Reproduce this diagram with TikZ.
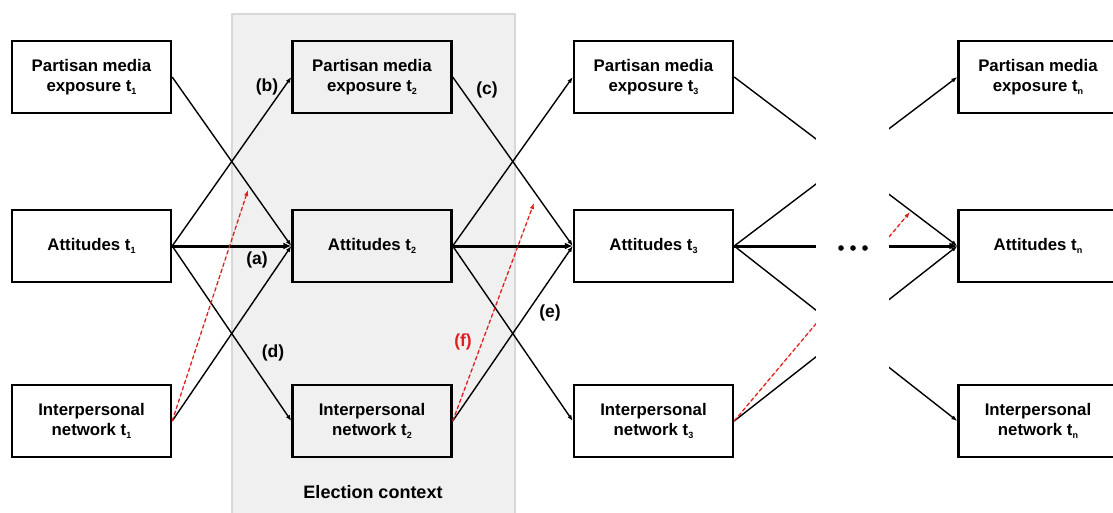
\documentclass[tikz,border=0pt]{standalone}
\usepackage{fontspec}
\setmainfont{Liberation Sans}
\usetikzlibrary{arrows.meta}
\definecolor{ctxfill}{HTML}{F0F0F0}
\definecolor{ctxline}{HTML}{D8D8D8}
\definecolor{modred}{HTML}{E02020}
\newcommand{\smallsub}[1]{\raisebox{-0.35ex}{\fontsize{9}{9}\selectfont #1}}
\begin{document}
\begin{tikzpicture}[x=1pt,y=-1pt,
  box/.style={draw=black, line width=2.4pt, minimum width=159pt, minimum height=72pt,
    inner sep=0pt, align=center, font=\fontsize{16.8}{20.5}\selectfont\bfseries},
  lbl/.style={font=\fontsize{17.5}{20}\selectfont\bfseries, inner sep=0pt},
  thinarrow/.style={line width=1.4pt, -{Latex[length=6pt,width=4.5pt]}},
  thickarrow/.style={line width=3pt, -{Latex[length=8pt,width=7pt]}},
  modarrow/.style={draw=modred, line width=1.3pt, dash pattern=on 4pt off 2.5pt,
    -{Latex[length=6pt,width=4.5pt]}, fill=modred}
]
\useasboundingbox (0,0) rectangle (1113,512);
% election context
\draw[fill=ctxfill, draw=ctxline, line width=1.5pt] (232,14) rectangle (515,530);
\node[lbl, font=\fontsize{18}{20}\selectfont\bfseries] (ctx) at (373,492) {Election context};

% boxes
\node[box] (P1) at (91.5,77) {Partisan media\\exposure t\smallsub{1}};
\node[box] (A1) at (91.5,246) {Attitudes t\smallsub{1}};
\node[box] (I1) at (91.5,421) {Interpersonal\\network t\smallsub{1}};
\node[box] (P2) at (372,77) {Partisan media\\exposure t\smallsub{2}};
\node[box] (A2) at (372,246) {Attitudes t\smallsub{2}};
\node[box] (I2) at (372,421) {Interpersonal\\network t\smallsub{2}};
\node[box] (P3) at (653.5,77) {Partisan media\\exposure t\smallsub{3}};
\node[box] (A3) at (653.5,246) {Attitudes t\smallsub{3}};
\node[box] (I3) at (653.5,421) {Interpersonal\\network t\smallsub{3}};
\node[box] (Pn) at (1038,77) {Partisan media\\exposure t\smallsub{n}};
\node[box] (An) at (1038,246) {Attitudes t\smallsub{n}};
\node[box] (In) at (1038,421) {Interpersonal\\network t\smallsub{n}};

% cross-lagged paths
\foreach \a/\b in {1/2,2/3,3/n}{
  \draw[thinarrow] (P\a.east) -- (A\b.west);
  \draw[thinarrow] (A\a.east) -- (P\b.west);
  \draw[thickarrow] (A\a.east) -- (A\b.west);
  \draw[thinarrow] (A\a.east) -- (I\b.west);
  \draw[thinarrow] (I\a.east) -- (A\b.west);
}

% moderation paths
\coordinate (r1) at (248,190);
\coordinate (r2) at (534,203);
\coordinate (r3) at (910,212);
\draw[modarrow] (I1.east) -- (r1);
\draw[modarrow] (I2.east) -- (r2);
\draw[modarrow] (I3.east) -- (r3);

% gap
\fill[white] (816,96) rectangle (889,405);
\fill[black] (841,248) circle (2.8) (853,248) circle (2.8) (865,248) circle (2.8);

% labels
\node[lbl] (la) at (257,260) {(a)};
\node[lbl] (lb) at (267,87) {(b)};
\node[lbl] (lc) at (487,90) {(c)};
\node[lbl] (ld) at (273,353) {(d)};
\node[lbl] (le) at (550,313) {(e)};
\node[lbl, text=modred] (lf) at (463,342) {(f)};
\end{tikzpicture}
\end{document}
